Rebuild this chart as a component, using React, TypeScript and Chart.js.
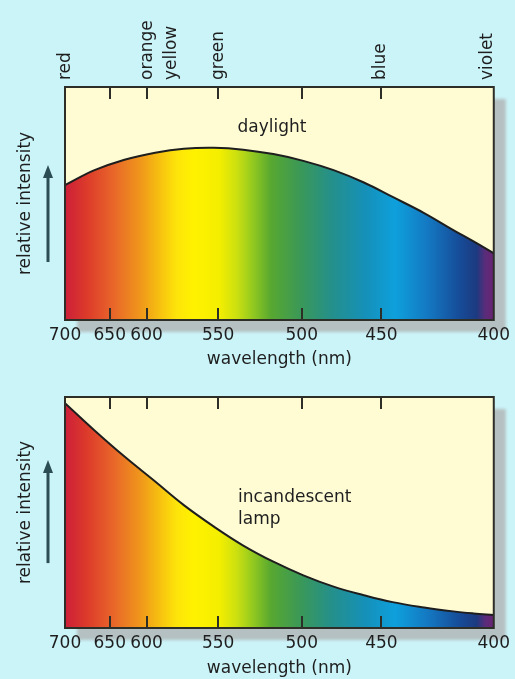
import { useEffect, useRef } from "react";
import { Chart, registerables } from "chart.js";

Chart.register(...registerables);

// ---------- data ----------
const tickWavelengths = [700, 650, 600, 550, 500, 450, 400];
const tickLabels = ["700", "650", "600", "550", "500", "450", "400"];
// the printed wavelength axis is non-linear: axis units at which each tick wavelength sits
const axisWarp = [0, 45, 82, 154, 238, 318, 431];

const sampleWavelengths = [700, 667, 630, 594, 574, 553, 535, 517, 499, 480, 461, 445, 431, 418, 409, 400];
const daylight = [57.9, 64.3, 68.8, 71.8, 73.5, 73.9, 73.1, 71.2, 68.3, 64.3, 59.0, 52.8, 45.9, 38.6, 33.7, 28.6];
const incandescent = [97.3, 85.5, 74.2, 63.4, 53.2, 43.9, 35.7, 28.7, 22.8, 17.9, 14.2, 11.2, 8.9, 7.2, 6.3, 5.6];

const colourNames = ["red", "orange", "yellow", "green", "blue", "violet"];
const colourWavelengths = [700, 600, 583, 550, 451, 403];

const spectrumStops = [0, 0.05, 0.11, 0.18, 0.22, 0.26, 0.3, 0.36, 0.4, 0.44, 0.48, 0.55, 0.62, 0.7, 0.77, 0.85, 0.92, 0.96, 0.98, 1];
const spectrumColours = [
  "#cc1f3a", "#dc3a2a", "#e8642a", "#f09a1a", "#f7c010", "#fde40a", "#fff200", "#f4ee00",
  "#cce010", "#90c820", "#58a830", "#3a9858", "#25908a", "#1590b8", "#0ea0dc", "#1476c0",
  "#164c98", "#1c3a80", "#5a2c7a", "#6a2472",
];

// ---------- styles ----------
const BG = "#cbf4f9";
const PLOT_BG = "#fffcd4";
const SHADOW = "#b5c0c2";
const INK = "#1e1e1e";
const FRAME = "#2e2e28";
const ARROW = "#2d4d55";
const FONT = "'DejaVu Sans', sans-serif";
const FS = 17;

function posOf(w: number): number {
  for (let i = 0; i < tickWavelengths.length - 1; i++) {
    const a = tickWavelengths[i];
    const b = tickWavelengths[i + 1];
    if (w <= a && w >= b) {
      const t = (a - w) / (a - b);
      return axisWarp[i] + t * (axisWarp[i + 1] - axisWarp[i]);
    }
  }
  return w > tickWavelengths[0] ? axisWarp[0] : axisWarp[axisWarp.length - 1];
}

function spectrum(chart: any) {
  const a = chart.chartArea;
  if (!a) return "rgba(0,0,0,0)";
  const g = chart.ctx.createLinearGradient(a.left, 0, a.right, 0);
  spectrumStops.forEach((s, i) => g.addColorStop(s, spectrumColours[i]));
  return g;
}

type Note = { text: string; x: number; y: number; align: CanvasTextAlign };
type Panel = {
  values: number[];
  notes: Note[];
  colourAxis: boolean;
  height: number;
  padTop: number;
  topAxisHeight: number;
  bottomAxisHeight: number;
  titlePad: number;
  arrow: [number, number];
};

const daylightPanel: Panel = {
  values: daylight,
  notes: [{ text: "daylight", x: 208, y: 82.4, align: "center" }],
  colourAxis: true,
  height: 385,
  padTop: 0,
  topAxisHeight: 87,
  bottomAxisHeight: 65,
  titlePad: 15,
  arrow: [24.9, 66.5],
};

const lampPanel: Panel = {
  values: incandescent,
  notes: [
    { text: "incandescent", x: 174, y: 56.3, align: "left" },
    { text: "lamp", x: 174, y: 46.8, align: "left" },
  ],
  colourAxis: false,
  height: 294,
  padTop: 12,
  topAxisHeight: 0,
  bottomAxisHeight: 51,
  titlePad: 0,
  arrow: [28.1, 72.7],
};

function decor(p: Panel) {
  return {
    id: "decor",
    beforeDraw(chart: any) {
      const { ctx, chartArea: a } = chart;
      ctx.save();
      ctx.filter = "blur(1.5px)";
      ctx.fillStyle = SHADOW;
      ctx.fillRect(a.left + 12, a.top + 12, a.right - a.left, a.bottom - a.top);
      ctx.filter = "none";
      ctx.fillStyle = PLOT_BG;
      ctx.fillRect(a.left, a.top, a.right - a.left, a.bottom - a.top);
      ctx.restore();
    },
    afterDatasetsDraw(chart: any) {
      const { ctx, chartArea: a } = chart;
      const xs = chart.scales.x;
      const ys = chart.scales.y;
      ctx.save();
      // inward tick marks
      ctx.strokeStyle = FRAME;
      ctx.lineWidth = 2;
      for (let i = 1; i < axisWarp.length - 1; i++) {
        const px = Math.round(xs.getPixelForValue(axisWarp[i]));
        ctx.beginPath();
        ctx.moveTo(px, a.top);
        ctx.lineTo(px, a.top + 12);
        ctx.moveTo(px, a.bottom);
        ctx.lineTo(px, a.bottom - 12);
        ctx.stroke();
      }
      // frame
      ctx.strokeRect(a.left, a.top, a.right - a.left, a.bottom - a.top);
      // arrow
      const ax = a.left - 17;
      const y0 = ys.getPixelForValue(p.arrow[0]);
      const y1 = ys.getPixelForValue(p.arrow[1]);
      ctx.strokeStyle = ARROW;
      ctx.fillStyle = ARROW;
      ctx.lineWidth = 3;
      ctx.beginPath();
      ctx.moveTo(ax, y0);
      ctx.lineTo(ax, y1 + 8);
      ctx.stroke();
      ctx.beginPath();
      ctx.moveTo(ax, y1);
      ctx.lineTo(ax - 5, y1 + 13);
      ctx.lineTo(ax + 5, y1 + 13);
      ctx.closePath();
      ctx.fill();
      // notes
      ctx.fillStyle = INK;
      ctx.font = `${FS}px ${FONT}`;
      ctx.textBaseline = "middle";
      p.notes.forEach((n) => {
        ctx.textAlign = n.align;
        ctx.fillText(n.text, xs.getPixelForValue(n.x), ys.getPixelForValue(n.y));
      });
      ctx.restore();
    },
  };
}

function PanelChart({ panel, top }: { panel: Panel; top: number }) {
  const ref = useRef<HTMLCanvasElement | null>(null);
  useEffect(() => {
    const canvas = ref.current;
    if (!canvas) return;
    const font = { family: FONT, size: FS };
    const scales: any = {
      x: {
        type: "linear",
        position: "bottom",
        min: axisWarp[0],
        max: axisWarp[axisWarp.length - 1],
        afterBuildTicks: (s: any) => {
          s.ticks = axisWarp.map((v) => ({ value: v }));
        },
        afterFit: (s: any) => {
          s.height = panel.bottomAxisHeight;
        },
        grid: { display: false, drawTicks: false },
        border: { display: false },
        ticks: {
          autoSkip: false,
          maxRotation: 0,
          minRotation: 0,
          padding: 5,
          color: INK,
          font,
          callback: (_v: any, i: number) => tickLabels[i],
        },
        title: {
          display: true,
          text: "wavelength (nm)",
          color: INK,
          font,
          padding: { top: 0, bottom: panel.titlePad },
        },
      },
      y: {
        type: "linear",
        min: 0,
        max: 100,
        afterFit: (s: any) => {
          s.width = 57;
        },
        grid: { display: false, drawTicks: false },
        border: { display: false },
        ticks: { display: false },
        title: {
          display: true,
          text: "relative intensity",
          color: INK,
          font,
          padding: { top: 7, bottom: 0 },
        },
      },
    };
    if (panel.colourAxis) {
      scales.xTop = {
        axis: "x",
        type: "linear",
        position: "top",
        min: axisWarp[0],
        max: axisWarp[axisWarp.length - 1],
        afterBuildTicks: (s: any) => {
          s.ticks = colourWavelengths.map((w) => ({ value: posOf(w) }));
        },
        afterFit: (s: any) => {
          s.height = panel.topAxisHeight;
        },
        grid: { display: false, drawTicks: false },
        border: { display: false },
        ticks: {
          autoSkip: false,
          minRotation: 90,
          maxRotation: 90,
          padding: 7,
          labelOffset: 21,
          color: INK,
          font,
          callback: (_v: any, i: number) => colourNames[i],
        },
      };
    }
    const chart = new Chart(canvas, {
      type: "line",
      data: {
        datasets: [
          {
            data: panel.values.map((v, i) => ({ x: posOf(sampleWavelengths[i]), y: v })),
            borderColor: INK,
            borderWidth: 2,
            pointRadius: 0,
            tension: 0.4,
            fill: "origin",
            backgroundColor: (ctx: any) => spectrum(ctx.chart),
          } as any,
        ],
      },
      options: {
        responsive: false,
        animation: false,
        layout: { padding: { left: 8, right: 19, top: panel.padTop, bottom: 0 } },
        plugins: { legend: { display: false }, tooltip: { enabled: false } },
        scales,
      },
      plugins: [decor(panel)],
    });
    return () => chart.destroy();
  }, [panel]);
  return (
    <canvas
      ref={ref}
      width={515}
      height={panel.height}
      style={{ position: "absolute", left: 0, top, width: 515, height: panel.height, display: "block" }}
    />
  );
}

export default function App() {
  return (
    <div style={{ position: "fixed", left: 0, top: 0, width: 515, height: 679, background: BG, overflow: "hidden" }}>
      <PanelChart panel={daylightPanel} top={0} />
      <PanelChart panel={lampPanel} top={385} />
    </div>
  );
}
